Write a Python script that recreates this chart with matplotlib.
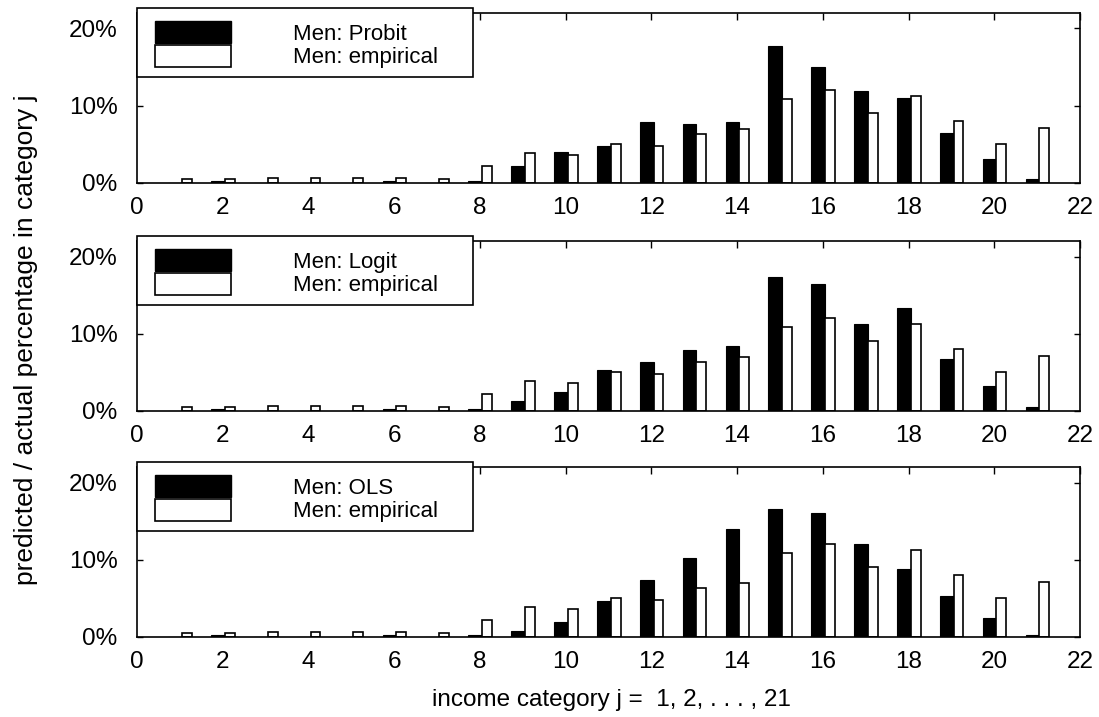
import matplotlib
matplotlib.use("Agg")
import matplotlib.pyplot as plt
import numpy as np
from matplotlib.patches import Patch, Rectangle

plt.rcParams["font.family"] = ["Liberation Sans", "DejaVu Sans"]

# income categories j = 1..21
CATEGORIES = np.arange(1, 22)

# percentages
EMPIRICAL = [0.5, 0.5, 0.6, 0.65, 0.65, 0.6, 0.5, 2.2, 3.85, 3.6, 5.0,
             4.75, 6.4, 6.95, 10.9, 12.05, 9.0, 11.2, 8.05, 5.0, 7.1]
PROBIT = [0.0, 0.3, 0.0, 0.0, 0.0, 0.3, 0.0, 0.2, 2.2, 4.0, 4.8,
          7.9, 7.7, 7.9, 17.7, 15.0, 11.9, 11.0, 6.45, 3.1, 0.5]
LOGIT = [0.0, 0.3, 0.0, 0.0, 0.0, 0.3, 0.0, 0.3, 1.3, 2.5, 5.3,
         6.4, 7.9, 8.35, 17.3, 16.4, 11.2, 13.3, 6.7, 3.2, 0.55]
OLS = [0.0, 0.3, 0.0, 0.0, 0.0, 0.3, 0.0, 0.3, 0.75, 1.95, 4.7,
       7.35, 10.2, 14.0, 16.6, 16.1, 12.05, 8.8, 5.25, 2.4, 0.3]

MODEL_NAMES = ["Probit", "Logit", "OLS"]
MODEL_VALUES = [PROBIT, LOGIT, OLS]

X_TICKS = list(range(0, 23, 2))
Y_TICKS = [0, 10, 20]

TICK_SIZE = 17.5
LEGEND_SIZE = 16
XLABEL_SIZE = 17.5
YLABEL_SIZE = 19
LEFT, WIDTH, HEIGHT = 0.1247, 0.858, 0.237
BOTTOMS = [0.7448, 0.4268, 0.1116]


def draw_panel(ax, name, values):
    ax.bar(CATEGORIES - 0.27, values, width=0.32, align="edge",
           color="black", edgecolor="black", linewidth=0.8, zorder=2)
    ax.bar(CATEGORIES + 0.05, EMPIRICAL, width=0.23, align="edge",
           color="white", edgecolor="black", linewidth=1.2, zorder=2)

    ax.set_xlim(0, 22)
    ax.set_ylim(0, 22)
    ax.set_xticks(X_TICKS)
    ax.set_yticks(Y_TICKS)
    ax.set_yticklabels([f"{v}%" for v in Y_TICKS])
    ax.tick_params(axis="x", direction="in", bottom=False, top=True,
                   length=5, width=1, pad=10, labelsize=TICK_SIZE)
    ax.tick_params(axis="y", direction="in", left=True, right=True,
                   length=4, width=1, pad=14, labelsize=TICK_SIZE)
    for spine in ax.spines.values():
        spine.set_linewidth(1.2)

    box = Rectangle((0, 0.625), 0.356, 0.405, transform=ax.transAxes,
                    facecolor="white", edgecolor="black", linewidth=1.2,
                    clip_on=False, zorder=4)
    ax.add_patch(box)

    handles = [
        Patch(facecolor="black", edgecolor="black", linewidth=1),
        Patch(facecolor="white", edgecolor="black", linewidth=1.2),
    ]
    leg = ax.legend(handles, [f"Men: {name}", "Men: empirical"],
                    loc="upper left", bbox_to_anchor=(0.019, 0.955),
                    frameon=False, borderpad=0, borderaxespad=0,
                    labelspacing=0, handlelength=3.4, handleheight=1.2,
                    handletextpad=2.8, fontsize=LEGEND_SIZE)
    leg.set_zorder(5)


fig = plt.figure(figsize=(10.99, 7.17), dpi=100)

for bottom, name, values in zip(BOTTOMS, MODEL_NAMES, MODEL_VALUES):
    ax = fig.add_axes([LEFT, bottom, WIDTH, HEIGHT])
    draw_panel(ax, name, values)

fig.text(0.024, 0.526, "predicted / actual percentage in category j",
         rotation=90, ha="center", va="center", fontsize=YLABEL_SIZE)
fig.text(0.556, 0.024, "income category j =  1, 2, . . . , 21",
         ha="center", va="center", fontsize=XLABEL_SIZE)

fig.savefig("out.png", dpi=100)
